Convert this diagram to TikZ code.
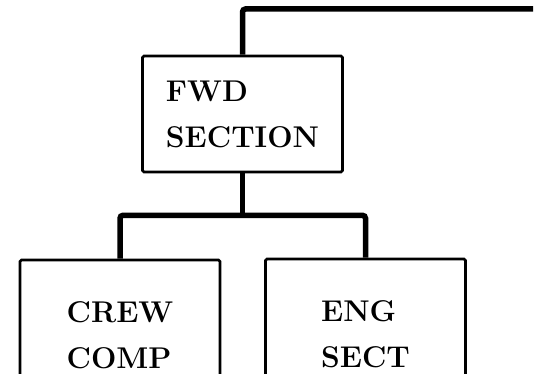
\documentclass[tikz,border=0pt]{standalone}
\usepackage{fontspec}
\usepackage{tikz}
\usetikzlibrary{positioning}

\begin{document}
\begin{tikzpicture}[
  x=1pt, y=-1pt,
  unit/.style={draw, line width=2.6pt, rounded corners=1.5pt, align=left,
    minimum width=200pt, inner sep=0pt,
    font=\fontsize{30}{46.5}\selectfont\bfseries\addfontfeature{LetterSpace=3}},
  link/.style={line width=5.5pt, rounded corners=3pt}
]
\clip (0,0) rectangle (552,374);
\node[unit, minimum height=116pt, text depth=-8pt] (fwd) at (242.5,114) {FWD\\SECTION};
\node[unit, minimum height=150pt] (crew) at (120,335) {CREW\\COMP};
\node[unit, minimum height=150pt] (eng) at (365.5,334) {ENG\\SECT};
\coordinate (feed) at (533,9);

\draw[link] (fwd.north) |- (feed);
\draw[link] (fwd.south) -- ++(0,42) coordinate (split);
\draw[link] (crew.north) |- (split) -| (eng.north);
\end{tikzpicture}
\end{document}
